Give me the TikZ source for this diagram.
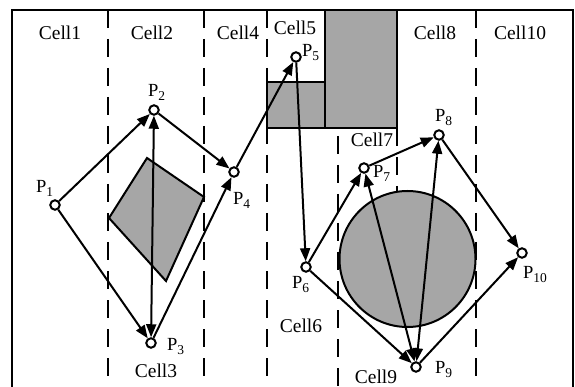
\documentclass[tikz,border=0pt]{standalone}
\usepackage{fontspec}
\setmainfont{Liberation Serif}
\usetikzlibrary{arrows.meta}
\definecolor{obst}{HTML}{A6A6A6}
\tikzset{
 frame/.style={line width=2.2pt},
 cellline/.style={line width=2.4pt, dash pattern=on 18pt off 11pt},
 obstacle/.style={fill=obst, draw=black, line width=2pt, line join=miter},
 waypt/.style={circle, draw=black, fill=white, line width=2pt, minimum size=9.5pt, inner sep=0pt},
 route/.style={line width=2pt, -{Triangle[length=13pt,width=10pt]}},
 biroute/.style={line width=2pt, {Triangle[length=13pt,width=10pt]}-{Triangle[length=13pt,width=10pt]}},
 celllabel/.style={anchor=base, inner sep=0pt, font=\fontsize{19.5}{19.5}\selectfont},
 plabel/.style={anchor=base west, inner sep=0pt, font=\fontsize{18.5}{18.5}\selectfont},
}
\newcommand{\pname}[1]{P\raisebox{-4pt}{\fontsize{13.5}{13.5}\selectfont #1}}
\begin{document}
\begin{tikzpicture}[x=1pt,y=-1pt]
\useasboundingbox (0,0) rectangle (575,387);
% cell boundaries
\draw[cellline] (108,10) -- (108,390);
\draw[cellline] (204,10) -- (204,390);
\draw[cellline] (267,10) -- (267,390);
\draw[cellline] (338,136) -- (338,390);
\draw[cellline] (397,128) -- (397,195);
\draw[cellline] (476,10) -- (476,390);
% obstacles
\draw[obstacle] (267,82) rectangle (325,128);
\draw[obstacle] (325,10) rectangle (397,128);
\draw[obstacle] (147,158) -- (204,197) -- (166,281) -- (109,218) -- cycle;
\draw[obstacle] (407.5,259) circle (68);
% frame
\draw[frame] (12,390) -- (12,10) -- (573,10) -- (573,390);
% cell labels
\node[celllabel] (c1) at (60,40) {Cell1};
\node[celllabel] (c2) at (152,40) {Cell2};
\node[celllabel] (c4) at (238,40) {Cell4};
\node[celllabel] (c5) at (295,35) {Cell5};
\node[celllabel] (c8) at (435,40) {Cell8};
\node[celllabel] (c10) at (520,40) {Cell10};
\node[celllabel] (c7) at (372,147) {Cell7};
\node[celllabel] (c3) at (156,377) {Cell3};
\node[celllabel] (c6) at (301,332) {Cell6};
\node[celllabel] (c9) at (376,383) {Cell9};
% waypoints
\node[waypt] (p1) at (55,205) {};
\node[waypt] (p2) at (154,110) {};
\node[waypt] (p3) at (151,343) {};
\node[waypt] (p4) at (234,172) {};
\node[waypt] (p5) at (296,57) {};
\node[waypt] (p6) at (306,267) {};
\node[waypt] (p7) at (364,168) {};
\node[waypt] (p8) at (439,135) {};
\node[waypt] (p9) at (416,367) {};
\node[waypt] (p10) at (522,253) {};
% waypoint labels
\node[plabel] (l1) at (36,193) {\pname{1}};
\node[plabel] (l2) at (148,97) {\pname{2}};
\node[plabel] (l3) at (167,350) {\pname{3}};
\node[plabel] (l4) at (233,205) {\pname{4}};
\node[plabel] (l5) at (302,57) {\pname{5}};
\node[plabel] (l6) at (292,288) {\pname{6}};
\node[plabel] (l7) at (373,178) {\pname{7}};
\node[plabel] (l8) at (435,122) {\pname{8}};
\node[plabel] (l9) at (435,373) {\pname{9}};
\node[plabel] (l10) at (523,278) {\pname{10}};
% routes
\draw[route] (p1) -- (p2);
\draw[route] (p1) -- (p3);
\draw[biroute] (p2) -- (p3);
\draw[route] (p2) -- (p4);
\draw[route] (p3) -- (p4);
\draw[route] (p4) -- (p5);
\draw[route] (p5) -- (p6);
\draw[route] (p6) -- (p7);
\draw[route] (p6) -- (p9);
\draw[route] (p7) -- (p8);
\draw[biroute] (p7) -- (p9);
\draw[biroute] (p8) -- (p9);
\draw[route] (p8) -- (p10);
\draw[route] (p9) -- (p10);
\end{tikzpicture}
\end{document}
